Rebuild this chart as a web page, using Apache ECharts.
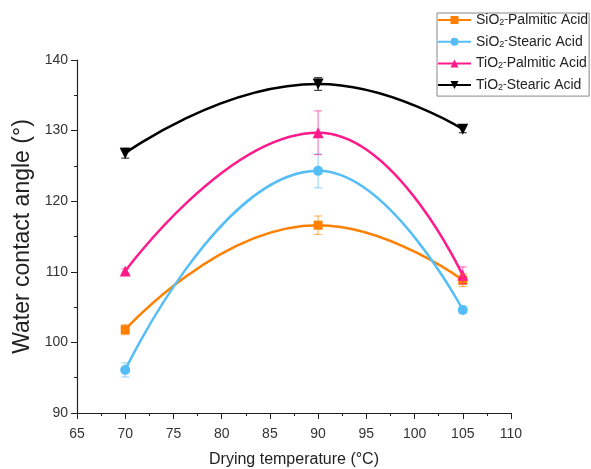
<!DOCTYPE html>
<html><head><meta charset="utf-8">
<script src="https://cdn.jsdelivr.net/npm/echarts@6/dist/echarts.min.js"></script>
<style>html,body{margin:0;padding:0;background:#fff}#c{width:591px;height:469px}</style>
</head><body><div id="c"></div>
<script>
const temperatures = [70, 90, 105];
const seriesNames = ['SiO2-Palmitic Acid', 'SiO2-Stearic Acid', 'TiO2-Palmitic Acid', 'TiO2-Stearic Acid'];
const siO2Palmitic = [101.8, 116.6, 108.8];
const siO2PalmiticErr = [0.7, 1.3, 0.9];
const siO2Stearic = [96.1, 124.3, 104.6];
const siO2StearicErr = [1.0, 2.4, 0.5];
const tiO2Palmitic = [110.1, 129.7, 109.5];
const tiO2PalmiticErr = [0.3, 3.1, 1.2];
const tiO2Stearic = [126.8, 136.6, 130.2];
const tiO2StearicErr = [0.7, 0.9, 0.5];

const colors = ['#FF8000', '#55BEF7', '#FF1A8C', '#000000'];
const errColors = ['rgba(255,128,0,0.55)', 'rgba(85,190,247,0.55)', 'rgba(255,26,140,0.55)', 'rgba(0,0,0,0.75)'];
const symbols = ['rect', 'circle', 'triangle', 'triangle'];
const symbolSizes = [9, 10, 11, 11];
const rotations = [0, 0, 0, 180];
const values = [siO2Palmitic, siO2Stearic, tiO2Palmitic, tiO2Stearic];
const errors = [siO2PalmiticErr, siO2StearicErr, tiO2PalmiticErr, tiO2StearicErr];

const series = [];
values.forEach((vals, i) => {
  series.push({
    name: seriesNames[i], type: 'line', smooth: 0.5,
    data: temperatures.map((t, k) => [t, vals[k]]),
    symbol: symbols[i], symbolSize: symbolSizes[i], symbolRotate: rotations[i],
    showAllSymbol: true,
    lineStyle: { color: colors[i], width: 2.5 },
    itemStyle: { color: colors[i] },
    z: 3
  });
});
values.forEach((vals, i) => {
  series.push({
    name: seriesNames[i] + ' err', type: 'custom',
    data: temperatures.map((t, k) => [t, vals[k], errors[i][k]]),
    renderItem: function (params, api) {
      const x = api.value(0), y = api.value(1), e = api.value(2);
      const top = api.coord([x, y + e]);
      const bot = api.coord([x, y - e]);
      const w = 4;
      const st = { stroke: errColors[i], lineWidth: 1.2 };
      return { type: 'group', children: [
        { type: 'line', shape: { x1: top[0], y1: top[1], x2: bot[0], y2: bot[1] }, style: st },
        { type: 'line', shape: { x1: top[0] - w, y1: top[1], x2: top[0] + w, y2: top[1] }, style: st },
        { type: 'line', shape: { x1: bot[0] - w, y1: bot[1], x2: bot[0] + w, y2: bot[1] }, style: st }
      ]};
    },
    z: 4, silent: true
  });
});

const FONT = 'Liberation Sans, Arial, sans-serif';
const chart = echarts.init(document.getElementById('c'), null, { renderer: 'canvas' });
chart.setOption({
  animation: false,
  backgroundColor: '#fff',
  textStyle: { fontFamily: FONT },
  grid: { left: 77, right: 80, top: 60, bottom: 56, containLabel: false, outerBoundsMode: 'none' },
  legend: {
    data: seriesNames,
    orient: 'vertical', left: 437, top: 13,
    backgroundColor: '#fff', borderColor: '#888', borderWidth: 1,
    padding: [0, 1, 4, 0],
    itemWidth: 33, itemHeight: 10, itemGap: 7.7,
    formatter: function (name) {
      const parts = name.split('-');
      const oxide = parts[0].replace('2', '');
      return '{a|' + oxide + '}{sub|2}{sup|-}{a|' + parts[1] + '}';
    },
    textStyle: {
      fontSize: 14, color: '#222',
      rich: {
        a: { fontSize: 14, color: '#222', fontFamily: FONT, lineHeight: 14 },
        sub: { fontSize: 9, color: '#222', fontFamily: FONT, verticalAlign: 'bottom', lineHeight: 14 },
        sup: { fontSize: 11, color: '#222', fontFamily: FONT, verticalAlign: 'top', lineHeight: 14 }
      }
    }
  },
  xAxis: {
    type: 'value', min: 65, max: 110, interval: 5,
    name: 'Drying temperature (°C)', nameLocation: 'middle', nameGap: 39,
    nameTextStyle: { fontSize: 16, color: '#222' },
    axisLine: { onZero: false, lineStyle: { color: '#222', width: 1.2 } },
    axisTick: { show: true, length: 6, lineStyle: { color: '#222' } },
    minorTick: { show: true, splitNumber: 2, length: 3, lineStyle: { color: '#222' } },
    axisLabel: { fontSize: 14, color: '#333', margin: 14 },
    splitLine: { show: false }
  },
  yAxis: {
    type: 'value', min: 90, max: 140, interval: 10,
    name: 'Water contact angle (°)', nameLocation: 'middle', nameGap: 42,
    nameTextStyle: { fontSize: 23, color: '#222' },
    axisLine: { show: true, onZero: false, lineStyle: { color: '#222', width: 1.2 } },
    axisTick: { show: true, length: 6, lineStyle: { color: '#222' } },
    minorTick: { show: true, splitNumber: 2, length: 3, lineStyle: { color: '#222' } },
    axisLabel: { fontSize: 14, color: '#333', margin: 9 },
    splitLine: { show: false }
  },
  series: series
});
</script></body></html>
